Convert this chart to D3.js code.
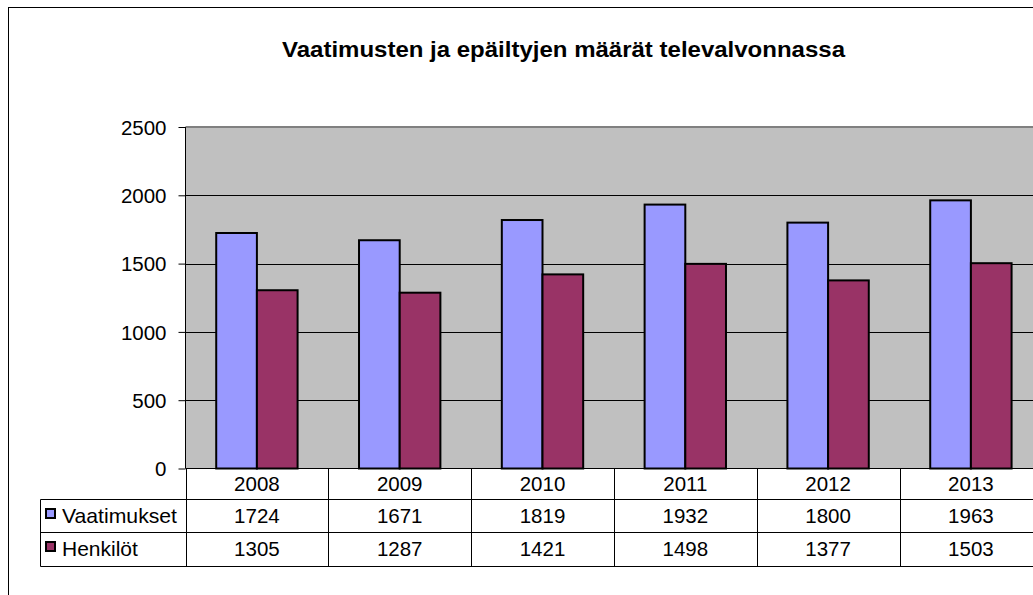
<!DOCTYPE html>
<html><head><meta charset="utf-8">
<script src="https://cdn.jsdelivr.net/npm/d3@7"></script>
<style>
html,body{margin:0;padding:0;background:#fff;overflow:hidden}
text{font-family:Arial,"Liberation Sans",sans-serif;fill:#000}
</style></head>
<body>
<script>
const title = "Vaatimusten ja epäiltyjen määrät televalvonnassa";
const years = ["2008","2009","2010","2011","2012","2013"];
const seriesNames = ["Vaatimukset","Henkilöt"];
const vaatimukset = [1724,1671,1819,1932,1800,1963];
const henkilot = [1305,1287,1421,1498,1377,1503];
const yTicks = [0,500,1000,1500,2000,2500];
const colors = ["#9999FF","#993366"];

const W = 1033, H = 595;
const FS = "20.5px";
const svg = d3.select("body").append("svg").attr("width",W).attr("height",H);

// outer chart frame (extends beyond the visible area)
svg.append("rect").attr("x",8.5).attr("y",7.5).attr("width",1200).attr("height",700)
  .attr("fill","#fff").attr("stroke","#000").attr("stroke-width",1);

const plotL = 185.5, plotT = 127, plotB = 468.5;
const band = 142.8;
const x = d3.scaleBand().domain(years).range([plotL, plotL + band*years.length]).padding(0);
const xs = d3.scaleBand().domain(seriesNames).range([0, x.bandwidth()]).paddingInner(0).paddingOuter(0.755);
const y = d3.scaleLinear().domain([0,2500]).range([plotB, plotT]);
const plotR = x.range()[1];

// title
svg.append("text").attr("x",282).attr("y",57)
  .attr("textLength",563).attr("lengthAdjust","spacingAndGlyphs")
  .style("font-size","22px").style("font-weight","bold").text(title);

// plot background
svg.append("rect").attr("x",plotL).attr("y",plotT).attr("width",plotR-plotL).attr("height",plotB-plotT)
  .attr("fill","#C0C0C0");

// gridlines
svg.append("g").selectAll("line").data(yTicks.filter(t=>t>0 && t<2500)).join("line")
  .attr("x1",plotL).attr("x2",plotR).attr("y1",d=>Math.round(y(d))+0.5).attr("y2",d=>Math.round(y(d))+0.5)
  .attr("stroke","#000").attr("stroke-width",1);
// top border of plot
svg.append("line").attr("x1",plotL).attr("x2",plotR).attr("y1",plotT).attr("y2",plotT)
  .attr("stroke","#808080").attr("stroke-width",2);

// bars
const data = years.map((yr,i)=>({year:yr, vals:[vaatimukset[i], henkilot[i]]}));
const g = svg.append("g").selectAll("g").data(data).join("g")
  .attr("transform",d=>`translate(${x(d.year)},0)`);
g.selectAll("rect").data(d=>d.vals.map((v,j)=>({v, s:seriesNames[j], j}))).join("rect")
  .attr("x",d=>xs(d.s)).attr("width",xs.bandwidth())
  .attr("y",d=>y(d.v)).attr("height",d=>plotB-y(d.v))
  .attr("fill",d=>colors[d.j]).attr("stroke","#000").attr("stroke-width",2);

// y axis
const yAxis = d3.axisLeft(y).tickValues(yTicks).tickSize(7).tickPadding(12).tickFormat(d3.format("d"));
const ya = svg.append("g").attr("transform",`translate(${plotL},0)`).call(yAxis);
ya.select(".domain").attr("stroke","#000").attr("d",`M0,${plotT}V${plotB}`);
ya.selectAll(".tick line").attr("stroke","#000");
ya.selectAll(".tick text").style("font-size",FS).style("font-family","Arial, 'Liberation Sans', sans-serif").attr("fill","#000").attr("dy","0.36em");

// data table
const rowTops = [plotB, 499.5, 532.5, 566.5];
const tableL = 40.5;
const tg = svg.append("g");
tg.append("line").attr("x1",plotL).attr("x2",plotR).attr("y1",plotB).attr("y2",plotB).attr("stroke","#000");
[1,2,3].forEach(i=>{
  tg.append("line").attr("x1",tableL).attr("x2",plotR).attr("y1",rowTops[i]).attr("y2",rowTops[i]).attr("stroke","#000");
});
tg.append("line").attr("x1",tableL).attr("x2",tableL).attr("y1",rowTops[1]).attr("y2",rowTops[3]).attr("stroke","#000");
const bounds = years.map(yv=>x(yv)).concat([plotR]);
tg.selectAll("line.v").data(bounds).join("line").attr("class","v")
  .attr("x1",d=>Math.round(d)+0.5).attr("x2",d=>Math.round(d)+0.5)
  .attr("y1",plotB).attr("y2",rowTops[3]).attr("stroke","#000");

tg.selectAll("text.yr").data(years).join("text").attr("class","yr")
  .attr("x",d=>x(d)+x.bandwidth()/2).attr("y",491).attr("text-anchor","middle")
  .style("font-size",FS).text(d=>d);
const rows = [vaatimukset, henkilot];
const rowBase = [523, 556];
rows.forEach((arr,ri)=>{
  tg.append("g").selectAll("text").data(arr).join("text")
    .attr("x",(d,i)=>x(years[i])+x.bandwidth()/2).attr("y",rowBase[ri]).attr("text-anchor","middle")
    .style("font-size",FS).text(d=>d);
  tg.append("rect").attr("x",46).attr("y",rowBase[ri]-14).attr("width",9).attr("height",9)
    .attr("fill",colors[ri]).attr("stroke","#000").attr("stroke-width",2);
  tg.append("text").attr("x",62).attr("y",rowBase[ri]).attr("textLength",115).attr("lengthAdjust","spacingAndGlyphs")
    .style("font-size","21px").text(seriesNames[ri]).attr("textLength", ri===0 ? 115 : null);
});
</script>
</body></html>
